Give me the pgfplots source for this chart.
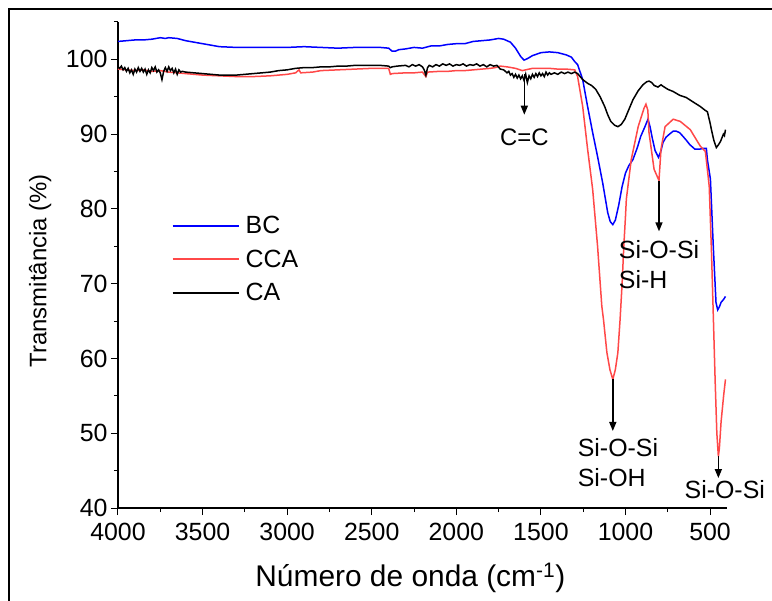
\documentclass[border=0pt]{standalone}
\usepackage{fontspec}
\setmainfont{Liberation Sans}
\usepackage{pgfplots}
\pgfplotsset{compat=1.18}
\usetikzlibrary{arrows.meta}
\definecolor{bcblue}{RGB}{0,0,255}
\definecolor{ccared}{RGB}{255,72,72}
\begin{document}
\begin{tikzpicture}
\begin{axis}[
  at={(0bp,0bp)}, anchor=south west,
  scale only axis, width=609bp, height=486bp,
  x dir=reverse, xmin=400, xmax=4000, ymin=40, ymax=105,
  axis x line*=bottom, axis y line*=left,
  xtick={500,1000,...,4000}, minor xtick={750,1250,...,3750},
  ytick={40,50,...,100}, minor ytick={45,55,...,105},
  tick align=outside, major tick length=7bp, minor tick length=4bp,
  tick style={black, line width=1bp},
  axis line style={line width=1.2bp},
  ticklabel style={font=\fontsize{25}{25}\selectfont},
  xticklabel style={yshift=-5bp},
  /pgf/number format/assume math mode=true,
  /pgf/number format/1000 sep={},
  xlabel={Número de onda (cm\textsuperscript{-1})},
  ylabel={Transmitância (\%)},
  xlabel style={font=\fontsize{30}{30}\selectfont, at={(axis description cs:0.48,-0.144)}, anchor=center},
  ylabel style={font=\fontsize{24}{24}\selectfont, at={(axis description cs:-0.128,0.488)}, anchor=center},
  legend style={draw=none, fill=none, at={(axis description cs:0.083,0.609)}, anchor=north west,
    font=\fontsize{25}{25}\selectfont, row sep=10.6bp, column sep=4bp},
  legend cell align=left,
  legend image code/.code={\draw[#1] (0bp,0bp) -- (66bp,0bp);},
  legend image post style={line width=2bp},
  clip=false,
]
\addplot[bcblue, line width=1.5bp] coordinates {
(4000,102.4) (3950,102.5) (3900,102.6) (3850,102.6) (3800,102.7) (3750,102.9) (3720,102.8)
(3700,102.9) (3650,102.8) (3600,102.5) (3550,102.3) (3500,102.1) (3450,101.9) (3400,101.7)
(3300,101.6) (3200,101.6) (3100,101.6) (3000,101.6) (2900,101.7) (2800,101.6) (2700,101.5)
(2600,101.6) (2500,101.6) (2450,101.6) (2400,101.5) (2380,101.1) (2360,101.1) (2340,101.3)
(2300,101.4) (2250,101.6) (2200,101.5) (2150,101.8) (2100,101.8) (2050,102.0) (2000,102.1)
(1950,102.1) (1900,102.4) (1850,102.5) (1800,102.6) (1750,102.8) (1720,102.7) (1680,102.3)
(1650,101.5) (1620,100.4) (1600,99.9) (1580,100.1) (1550,100.5) (1500,100.9) (1450,101.0)
(1400,100.9) (1350,100.6) (1320,100.3) (1300,99.7) (1283,99.3) (1253,97.3) (1224,93.7)
(1194,90.2) (1165,87.0) (1135,83.5) (1120,81.5) (1105,79.5) (1090,78.3) (1075,77.9)
(1060,78.5) (1040,80.5) (1020,83.0) (1000,84.8) (980,85.8) (956,86.6) (930,88.2) (910,89.7)
(885,91.0) (867,92.0) (855,91.0) (840,89.3) (825,87.8) (805,86.9) (790,87.8) (778,88.9)
(760,89.6) (740,90.0) (718,90.4) (700,90.4) (680,90.2) (660,89.7) (641,89.2) (620,88.6)
(590,88.0) (560,88.0) (540,88.1) (522,88.1) (516,86.6) (498,84.0) (481,75.0) (465,67.5)
(455,66.5) (445,66.9) (435,67.5) (420,67.9) (409,68.3)
};
\addlegendentry{BC}
\addplot[ccared, line width=1.5bp] coordinates {
(4000,98.7) (3950,98.6) (3900,98.5) (3850,98.6) (3800,98.4) (3750,98.5) (3700,98.3) (3650,98.2)
(3600,98.1) (3500,97.9) (3400,97.8) (3300,97.7) (3200,97.7) (3100,97.8) (3000,98.0) (2950,98.2)
(2930,98.6) (2920,98.2) (2850,98.3) (2800,98.5) (2700,98.6) (2600,98.7) (2500,98.8) (2400,98.8)
(2390,98.0) (2380,98.1) (2300,98.2) (2250,98.2) (2200,98.3) (2180,97.7) (2170,98.3) (2100,98.4)
(2050,98.4) (2000,98.5) (1950,98.5) (1900,98.6) (1850,98.7) (1800,98.8) (1770,98.9) (1740,99.1)
(1700,99.0) (1650,98.8) (1610,98.5) (1590,98.6) (1550,98.8) (1500,98.8) (1450,98.8) (1400,98.7)
(1350,98.7) (1300,98.6) (1283,97.7) (1253,93.7) (1224,88.0) (1194,82.6) (1165,75.0) (1140,67.0)
(1130,65.2) (1110,60.8) (1092,58.5) (1075,57.2) (1060,58.5) (1045,60.8) (1032,65.2) (1020,70.0)
(1010,75.0) (1000,79.0) (995,81.3) (966,86.6) (925,91.0) (890,93.5) (879,94.0) (868,93.2)
(861,90.2) (831,85.3) (802,83.8) (790,88.0) (766,91.0) (718,92.0) (676,91.7) (617,90.6)
(558,88.4) (528,87.7) (516,85.3) (505,83.0) (492,74.5) (480,65.0) (470,57.0) (460,50.0)
(451,46.9) (445,48.0) (435,51.5) (420,55.0) (409,57.2)
};
\addlegendentry{CCA}
\addplot[black, line width=1.5bp] coordinates {
(4000,99.0) (3990,98.8) (3980,99.1) (3970,98.6) (3960,98.9) (3950,98.4) (3940,98.8) (3930,98.2)
(3920,98.6) (3910,98.0) (3900,98.7) (3890,98.3) (3880,98.9) (3870,98.4) (3860,98.8) (3850,98.3)
(3840,98.7) (3830,98.0) (3820,98.6) (3810,98.2) (3800,98.9) (3790,98.5) (3780,99.0) (3770,98.3)
(3760,98.6) (3750,98.2) (3740,97.3) (3730,98.4) (3720,98.9) (3710,98.4) (3700,99.0) (3690,98.5)
(3680,98.8) (3670,98.2) (3660,98.7) (3650,98.0) (3640,98.6) (3630,98.3) (3620,98.4) (3600,98.3)
(3550,98.2) (3500,98.1) (3450,98.0) (3400,97.9) (3350,97.9) (3300,97.9) (3250,98.0) (3200,98.1)
(3150,98.2) (3100,98.3) (3050,98.5) (3000,98.6) (2950,98.8) (2900,98.9) (2850,98.9) (2800,99.0)
(2750,99.0) (2700,99.1) (2650,99.1) (2600,99.2) (2550,99.2) (2500,99.2) (2450,99.2) (2400,99.1)
(2390,98.9) (2380,99.0) (2350,99.1) (2300,99.2) (2280,99.0) (2260,99.3) (2240,99.1) (2220,99.3)
(2200,99.0) (2190,98.6) (2180,97.9) (2170,98.9) (2160,99.2) (2140,99.0) (2120,99.3) (2100,99.1)
(2080,99.4) (2060,99.2) (2040,99.4) (2020,99.1) (2000,99.3) (1980,99.2) (1960,99.4) (1940,99.1)
(1920,99.3) (1900,99.2) (1880,99.4) (1860,99.1) (1840,99.3) (1820,99.0) (1800,99.3) (1780,99.1)
(1760,99.2) (1740,98.7) (1720,98.6) (1700,98.2) (1690,98.4) (1680,97.9) (1670,98.1) (1660,97.6)
(1650,98.0) (1640,97.5) (1630,97.9) (1620,97.4) (1610,97.8) (1600,97.2) (1590,98.0) (1580,96.9)
(1570,97.8) (1560,97.4) (1550,98.0) (1540,97.6) (1530,98.1) (1520,97.7) (1510,98.2) (1500,97.8)
(1490,98.1) (1480,97.7) (1470,98.3) (1460,97.9) (1450,98.2) (1440,98.0) (1420,98.2) (1400,98.0)
(1380,98.3) (1360,98.1) (1340,98.3) (1320,98.1) (1300,98.3) (1283,98.1) (1253,97.3) (1224,96.8)
(1200,96.5) (1176,96.0) (1150,95.0) (1123,93.7) (1105,92.6) (1087,91.7) (1065,91.2) (1045,91.0)
(1025,91.3) (1004,92.0) (980,93.3) (956,94.6) (925,95.8) (897,96.6) (875,97.0) (861,97.1)
(845,96.9) (830,96.5) (808,96.3) (790,96.6) (778,96.4) (750,96.0) (718,95.7) (680,95.2)
(641,94.9) (600,94.3) (558,93.7) (530,93.2) (516,93.0) (500,91.5) (492,90.6) (478,89.2)
(463,88.2) (450,88.6) (439,89.0) (430,89.5) (421,90.0) (415,89.8) (409,90.6)
};
\addlegendentry{CA}
% annotations
\draw[line width=1.5bp, -{Triangle[length=9bp,width=7bp]}] (axis cs:1598,98.0) -- (axis cs:1598,92.6);
\node[font=\fontsize{24}{24}\selectfont] at (axis cs:1598,89.6) {C=C};
\draw[line width=1.5bp, -{Triangle[length=9bp,width=7bp]}] (axis cs:802,83.8) -- (axis cs:802,77.0);
\node[font=\fontsize{25}{30}\selectfont, align=left, anchor=north west, inner sep=0pt] at (axis cs:1040,75.8) {Si-O-Si\\Si-H};
\draw[line width=1.5bp, -{Triangle[length=9bp,width=7bp]}] (axis cs:1075,57.2) -- (axis cs:1075,50.3);
\node[font=\fontsize{25}{30}\selectfont, align=left, anchor=north west, inner sep=0pt] at (axis cs:1283,49.3) {Si-O-Si\\Si-OH};
\draw[line width=1.5bp, -{Triangle[length=9bp,width=7bp]}] (axis cs:451,46.9) -- (axis cs:451,44.0);
\node[font=\fontsize{25}{25}\selectfont] at (axis cs:413,42.5) {Si-O-Si};
\end{axis}
\draw[line width=2bp] (-109bp,-100bp) -- (-109bp,499bp) -- (660bp,499bp);
\pgfresetboundingbox
\useasboundingbox (-118bp,-93bp) rectangle (654bp,508bp);
\end{tikzpicture}
\end{document}
